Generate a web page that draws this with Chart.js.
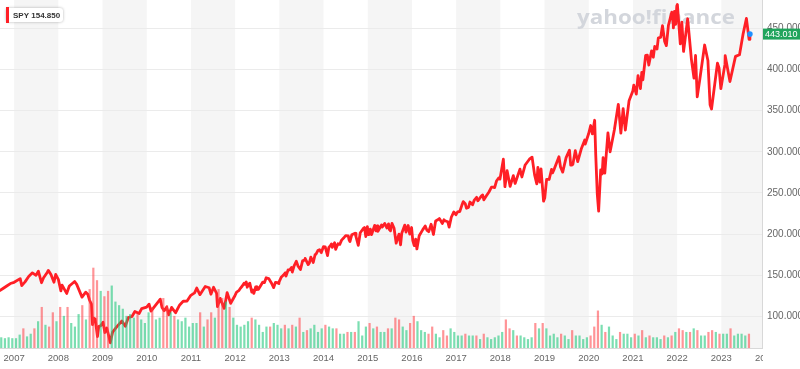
<!DOCTYPE html>
<html>
<head>
<meta charset="utf-8">
<script src="https://cdn.jsdelivr.net/npm/chart.js@4.4.0/dist/chart.umd.min.js"></script>
<style>
  html, body { margin: 0; padding: 0; background: #fff; }
  #wrap { width: 800px; height: 369px; }
</style>
</head>
<body>
<div id="wrap"><canvas id="grafico" width="800" height="369"></canvas></div>
<script>
// =======================
// DATOS
// =======================
const ticker = "SPY";
const legendValue = "154.850";

const dates = [
  "2006-09-01","2006-10-01","2006-11-01","2006-12-01",
  "2007-01-01","2007-02-20","2007-03-05","2007-04-01","2007-05-01","2007-06-01","2007-07-01","2007-07-20","2007-08-15","2007-09-01","2007-10-01","2007-10-10","2007-11-01","2007-11-26","2007-12-10",
  "2008-01-01","2008-01-22","2008-02-01","2008-03-10","2008-04-01","2008-05-15","2008-06-01","2008-07-15","2008-08-15","2008-09-01","2008-09-15","2008-10-01","2008-10-10","2008-10-20","2008-11-01","2008-11-20","2008-12-01","2008-12-15",
  "2009-01-05","2009-01-20","2009-02-05","2009-02-25","2009-03-06","2009-03-25","2009-04-15","2009-05-01","2009-06-10","2009-07-08","2009-08-01","2009-09-01","2009-09-25","2009-10-30","2009-11-20","2009-12-31",
  "2010-01-20","2010-02-05","2010-03-01","2010-04-23","2010-05-07","2010-05-25","2010-06-15","2010-07-02","2010-07-25","2010-08-27","2010-09-30","2010-10-29","2010-11-30","2010-12-31",
  "2011-01-31","2011-02-18","2011-03-16","2011-04-29","2011-05-31","2011-06-15","2011-07-07","2011-08-01","2011-08-08","2011-08-31","2011-09-22","2011-10-03","2011-10-27","2011-11-25","2011-12-31",
  "2012-01-13","2012-01-31","2012-02-15","2012-02-29","2012-03-15","2012-03-23","2012-04-02","2012-04-10","2012-04-20","2012-05-01","2012-05-18","2012-05-25","2012-06-04","2012-06-19","2012-06-25","2012-06-29","2012-07-12","2012-07-31","2012-08-17","2012-08-31","2012-09-14","2012-10-05","2012-10-26","2012-11-15","2012-11-30","2012-12-14","2012-12-28","2012-12-31",
  "2013-01-18","2013-01-31","2013-02-19","2013-02-25","2013-03-14","2013-03-28","2013-04-11","2013-04-18","2013-05-03","2013-05-21","2013-06-05","2013-06-24","2013-07-12","2013-07-31","2013-08-02","2013-08-27","2013-09-06","2013-09-18","2013-10-08","2013-10-23","2013-10-31","2013-11-15","2013-11-29","2013-12-13","2013-12-31",
  "2014-01-15","2014-02-03","2014-02-14","2014-02-28","2014-03-07","2014-03-14","2014-04-02","2014-04-11","2014-04-30","2014-05-15","2014-05-30","2014-06-20","2014-07-03","2014-07-24","2014-07-31","2014-08-07","2014-08-22","2014-09-18","2014-09-26","2014-10-15","2014-10-31","2014-11-28","2014-12-05","2014-12-16","2014-12-29",
  "2015-01-06","2015-01-15","2015-01-22","2015-02-02","2015-02-27","2015-03-10","2015-03-20","2015-03-26","2015-04-24","2015-04-30","2015-05-21","2015-06-08","2015-06-22","2015-06-29","2015-07-08","2015-07-20","2015-08-06","2015-08-24","2015-09-16","2015-09-29","2015-10-09","2015-11-03","2015-11-13","2015-12-01","2015-12-14","2015-12-29",
  "2016-01-08","2016-01-20","2016-02-01","2016-02-11","2016-03-01","2016-03-31","2016-04-20","2016-05-05","2016-05-19","2016-06-08","2016-06-27","2016-07-15","2016-07-29","2016-08-15","2016-09-09","2016-09-22","2016-09-30","2016-10-24","2016-11-04","2016-11-22","2016-12-13","2016-12-30",
  "2017-01-13","2017-01-31","2017-02-17","2017-03-01","2017-03-17","2017-03-27","2017-04-13","2017-04-25","2017-05-17","2017-05-31","2017-06-19","2017-06-29","2017-07-31","2017-08-08","2017-08-18","2017-09-08","2017-09-29","2017-10-20","2017-10-31","2017-11-15","2017-11-30","2017-12-18","2017-12-29",
  "2018-01-26","2018-02-08","2018-02-26","2018-03-23","2018-04-18","2018-05-03","2018-06-12","2018-06-28","2018-07-25","2018-08-29","2018-09-20","2018-10-11","2018-10-29","2018-11-07","2018-11-23","2018-12-03","2018-12-24",
  "2019-01-03","2019-01-18","2019-02-08","2019-02-28","2019-03-08","2019-03-22","2019-04-30","2019-05-13","2019-05-31","2019-06-28","2019-07-26","2019-08-05","2019-08-14","2019-08-23","2019-09-12","2019-10-02","2019-10-31","2019-11-29","2019-12-03","2019-12-31",
  "2020-01-17","2020-01-31","2020-02-19","2020-02-28","2020-03-12","2020-03-23","2020-04-09","2020-04-21","2020-04-29","2020-05-13","2020-06-08","2020-06-26","2020-07-31","2020-09-02","2020-09-23","2020-10-12","2020-10-30","2020-11-30","2020-12-31",
  "2021-01-08","2021-01-29","2021-02-12","2021-03-04","2021-03-15","2021-03-24","2021-04-16","2021-04-30","2021-05-12","2021-06-04","2021-06-18","2021-06-30","2021-07-19","2021-07-30","2021-08-18","2021-09-02","2021-09-20","2021-10-04","2021-10-21","2021-11-18","2021-11-30","2021-12-01","2021-12-10","2021-12-20","2021-12-29",
  "2022-01-03","2022-01-27","2022-02-09","2022-02-23","2022-03-29","2022-04-29","2022-05-20","2022-06-02","2022-06-16","2022-07-08","2022-08-16","2022-09-12","2022-09-30","2022-10-12","2022-11-30","2022-12-13","2022-12-28",
  "2023-01-31","2023-02-02","2023-03-13","2023-04-28","2023-05-31","2023-06-30","2023-07-27","2023-08-18","2023-08-25"
];

const closes = [
  131,134,137,140,
  141.5,146,137.5,142,148.5,153,150,155,141,147,153.5,156,151,141.5,151,
  145,131,138,128,137,142.5,139,123.5,129.5,127,120,115,90,98,97,75.5,88,88.5,
  93,80.5,86,74,68,81,85,88,94.5,88,98.5,100,106,103.6,109.5,111.4,
  115,106.5,111,121,111,107,111.5,102,111,104.5,114,118.5,118.7,125.7,
  128.7,134.5,126.5,136.4,134.9,127,135.5,128,112,121.9,113.5,109.9,129,116,125.5,
  129.5,131.3,134.5,137,140.5,139,142,135.5,138.5,140.5,129.5,132,128,136,132.5,136.1,133,137.7,141.8,141.2,147,146,141,135,141.5,141,140,142.4,
  148,149.7,153,149,156.5,156.7,159.5,154,161.5,167,161,157,167.5,168.7,170.5,163,165,172,165.5,175,175.8,180,181,177.5,184.7,
  184.5,174,184,186.3,188,184,189.5,181.5,188.3,187.5,192.7,196,198.2,198,193,191,199.2,201,197,186.4,201.7,207.2,208,197,209,
  199.5,199.8,206,199.5,210.7,204,210,203.5,211,208.5,213,207.5,212.5,205.5,204,213,207.5,189,200,187,201,211,202.5,210.5,200,208,
  192,186,194,182,198,205.5,210,204.5,203,212,199.6,216,217.1,219,213,217.5,216.3,215,208.5,220.5,227,223.5,
  227,227.5,235,239.5,237,231.5,232.5,239,235.8,241.4,244.7,240.5,246.8,247.5,241.7,246.5,251.2,257,257.2,256.5,264.5,268.2,266.9,
  291,257.6,277,258,271,261.5,279,269.4,284,291,293.5,272,261,281,263.2,279.3,240,
  244.2,266.5,266.4,278.7,274.5,279,294,281.5,275.3,293,302,283.8,283.9,284.8,301.3,288,303.3,314.3,309.5,321.9,
  331.9,321.7,338.3,296.3,248,228,278,273,293,274,323,300,326.5,357.7,322.6,352.4,326.5,362.1,373.9,
  381,370.1,392.6,376.7,396.4,387.5,417,417.3,405.4,422.6,414.9,428,424.9,438.5,439,453.2,434,429,453.6,469.7,455.6,450.5,470.7,454.9,477,
  479,431.2,457.5,421.9,461.6,412,389.6,417,366.7,388.7,429.7,411,357.2,352,407.7,402,376.7,
  406.5,416.8,385.4,415.9,417.9,443.3,462,436.5,443.01
];

// volumen promedio mensual (millones), desde 2006-09
const volStart = "2006-09";
const volumes = [
  60,55,60,55,
  55,75,110,65,80,110,150,230,130,120,200,150,
  230,180,230,140,120,190,240,160,330,450,380,320,
  290,320,350,260,240,220,180,190,170,190,160,140,
  200,230,160,170,280,240,200,180,160,150,170,120,
  140,140,200,120,160,200,170,330,280,260,230,170,
  130,120,130,150,170,160,130,90,120,120,140,130,
  110,130,110,130,120,170,90,100,110,130,90,110,
  130,120,110,110,80,80,90,90,90,150,70,120,
  140,110,120,90,90,110,110,170,160,120,100,140,
  180,150,100,90,80,120,80,60,100,70,110,90,
  70,70,80,70,70,70,50,80,60,50,60,70,
  90,160,110,100,70,70,60,50,60,140,110,140,
  110,70,80,60,80,70,50,100,70,70,50,60,
  70,120,210,130,90,120,70,50,90,80,80,60,
  80,70,100,60,70,60,60,50,70,60,70,90,
  110,100,90,90,110,100,70,70,90,100,90,80,
  80,80,110,70,80,80,70,80
];

const yTicks = [100, 150, 200, 250, 300, 350, 400, 450];
const years = [2007,2008,2009,2010,2011,2012,2013,2014,2015,2016,2017,2018,2019,2020,2021,2022,2023];

// =======================
// UTILIDADES
// =======================
function toYear(s) {
  const [y, m, d] = s.split("-").map(Number);
  const t0 = Date.UTC(y, 0, 1), t1 = Date.UTC(y + 1, 0, 1);
  return y + (Date.UTC(y, m - 1, d) - t0) / (t1 - t0);
}

const pricePts = dates.map((d, i) => ({ x: toYear(d), y: closes[i] }));

function closeAt(t) {
  let v = closes[0];
  pricePts.forEach(p => { if (p.x < t) v = p.y; });
  return v;
}

const [vy, vm] = volStart.split("-").map(Number);
const volPts = [];
const volColors = [];
volumes.forEach((v, i) => {
  const a = vy + (vm - 1 + i) / 12;
  const b = vy + (vm + i) / 12;
  volPts.push({ x: (a + b) / 2, y: v });
  const up = closeAt(b) >= closeAt(a);
  volColors.push(up ? "rgba(35,200,125,0.6)" : "rgba(255,60,65,0.55)");
});

const FONT = '"Liberation Sans", Arial, sans-serif';

// =======================
// PLUGINS
// =======================
const fondoPlugin = {
  id: "fondo",
  beforeDraw(chart) {
    const { ctx, chartArea: ca, scales } = chart;
    ctx.save();
    ctx.fillStyle = "#fff";
    ctx.fillRect(0, 0, chart.width, chart.height);
    ctx.beginPath();
    ctx.rect(ca.left, ca.top, ca.right - ca.left, ca.bottom - ca.top);
    ctx.clip();
    ctx.fillStyle = "#f5f5f5";
    years.forEach(y => {
      if (y % 2 === 1) {
        const x0 = scales.x.getPixelForValue(y);
        const x1 = scales.x.getPixelForValue(y + 1);
        ctx.fillRect(x0, ca.top, x1 - x0, ca.bottom - ca.top);
      }
    });
    ctx.restore();
  },
  beforeDatasetsDraw(chart) {
    const { ctx } = chart;
    ctx.save();
    ctx.font = 'bold 19px "Open Sans", sans-serif';
    ctx.fillStyle = "#d3d6dc";
    ctx.textBaseline = "alphabetic";
    const txt = "yahoo!finance";
    const w = ctx.measureText(txt).width;
    ctx.translate(577, 24);
    ctx.scale(158 / w, 1);
    ctx.fillText(txt, 0, 0);
    ctx.restore();
  },
  afterDraw(chart) {
    const { ctx, scales, chartArea: ca } = chart;
    const last = pricePts[pricePts.length - 1];
    const px = scales.x.getPixelForValue(last.x);
    const py = scales.y.getPixelForValue(last.y);

    ctx.save();
    // etiqueta precio
    ctx.fillStyle = "#20a45c";
    ctx.fillRect(ca.right + 1, py - 5.5, chart.width - ca.right - 1, 11);
    ctx.fillStyle = "#fff";
    ctx.font = "9px " + FONT;
    ctx.textBaseline = "middle";
    ctx.fillText(last.y.toFixed(3), ca.right + 3, py + 0.5);

    // punto azul
    ctx.beginPath();
    ctx.arc(px, py, 2.8, 0, Math.PI * 2);
    ctx.fillStyle = "#1e8fff";
    ctx.fill();

    // leyenda
    ctx.shadowColor = "rgba(0,0,0,0.3)";
    ctx.shadowBlur = 3;
    ctx.fillStyle = "#fff";
    ctx.beginPath();
    ctx.roundRect(6, 8, 57, 14, 3);
    ctx.fill();
    ctx.shadowBlur = 0;
    ctx.fillStyle = "#ff1f26";
    ctx.fillRect(6, 7, 3, 16);
    ctx.fillStyle = "#333";
    ctx.font = "bold 8px " + FONT;
    ctx.fillText(ticker + " " + legendValue, 13, 15.5);

    // 2024 recortado en el borde del area
    ctx.beginPath();
    ctx.rect(ca.right - 20, ca.bottom, 21, 21);
    ctx.clip();
    ctx.fillStyle = "#666";
    ctx.font = "9.5px " + FONT;
    ctx.textAlign = "center";
    ctx.textBaseline = "middle";
    ctx.fillText("2024", scales.x.getPixelForValue(2024), ca.bottom + 10);
    ctx.restore();
  }
};

// =======================
// GRAFICO
// =======================
new Chart(document.getElementById("grafico"), {
  type: "bar",
  data: {
    datasets: [
      {
        type: "line",
        data: pricePts,
        borderColor: "#ff1f26",
        borderWidth: 2.8,
        pointRadius: 0,
        tension: 0,
        borderJoinStyle: "round",
        yAxisID: "y",
        order: 2
      },
      {
        type: "bar",
        data: volPts,
        backgroundColor: volColors,
        borderWidth: 0,
        barPercentage: 0.6,
        categoryPercentage: 1,
        yAxisID: "yv",
        order: 1
      }
    ]
  },
  options: {
    responsive: false,
    animation: false,
    layout: { padding: 0 },
    plugins: { legend: { display: false }, tooltip: { enabled: false } },
    scales: {
      x: {
        type: "linear",
        min: 2006.68,
        max: 2023.92,
        offset: false,
        grid: { display: false, offset: false, drawTicks: false },
        border: { color: "#d8d8d8" },
        afterBuildTicks: s => { s.ticks = years.map(v => ({ value: v })); },
        afterFit: s => { s.height = 21; s.paddingLeft = 0; s.paddingRight = 0; },
        ticks: {
          color: "#666",
          font: { size: 9.5, family: FONT },
          padding: 5,
          maxRotation: 0,
          autoSkip: false,
          callback: v => String(v)
        }
      },
      y: {
        position: "right",
        min: 61.7,
        max: 484.4,
        grid: { color: "#ebebeb", drawTicks: false },
        border: { color: "#d8d8d8" },
        afterBuildTicks: s => { s.ticks = yTicks.map(v => ({ value: v })); },
        afterFit: s => { s.width = 38; s.paddingTop = 0; s.paddingBottom = 0; },
        ticks: {
          color: "#666",
          font: { size: 10, family: FONT },
          padding: 5,
          callback: v => v.toFixed(3)
        }
      },
      yv: {
        display: false,
        min: 0,
        max: 1950
      }
    }
  },
  plugins: [fondoPlugin]
});
</script>
</body>
</html>
